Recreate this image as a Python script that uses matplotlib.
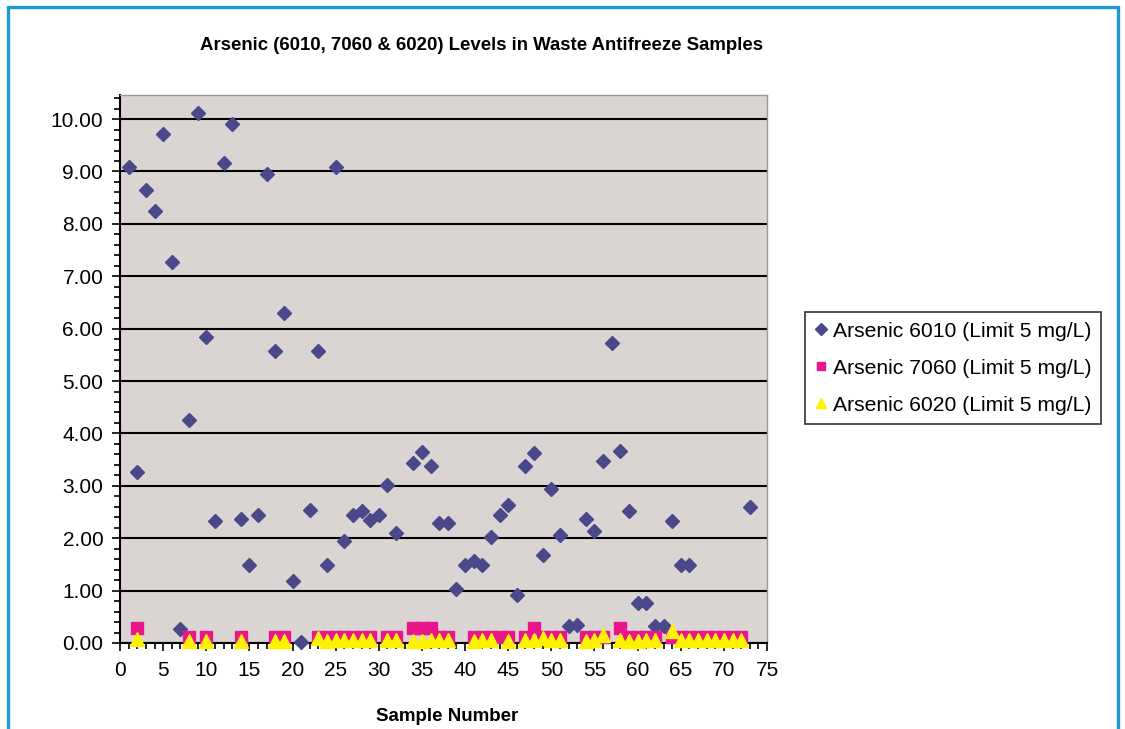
import numpy as np
import matplotlib
matplotlib.use("Agg")
import matplotlib.pyplot as plt
from matplotlib.patches import Rectangle
from matplotlib.ticker import MultipleLocator, FormatStrFormatter

plt.rcParams['font.family'] = ['Liberation Sans', 'DejaVu Sans']

# Arsenic 6010 results (sample number, mg/L)
as6010_x = [1, 2, 3, 4, 5, 6, 7, 8, 9, 10, 11, 12, 13, 14, 15, 16, 17, 18, 19, 20,
            21, 22, 23, 24, 25, 26, 27, 28, 29, 30, 31, 32, 34, 35, 36, 37, 38, 39, 40,
            41, 42, 43, 44, 45, 46, 47, 48, 49, 50, 51, 52, 53, 54, 55, 56, 57, 58, 59,
            60, 61, 62, 63, 64, 65, 66, 73]
as6010_y = [9.08, 3.27, 8.65, 8.24, 9.72, 7.28, 0.27, 4.26, 10.11, 5.84, 2.32, 9.16, 9.91,
            2.37, 1.49, 2.45, 8.96, 5.58, 6.30, 1.19, 0.01, 2.54, 5.58, 1.49, 9.08, 1.95,
            2.44, 2.51, 2.35, 2.45, 3.01, 2.10, 3.43, 3.64, 3.38, 2.29, 2.29, 1.03, 1.49,
            1.56, 1.48, 2.02, 2.44, 2.64, 0.91, 3.38, 3.63, 1.67, 2.94, 2.07, 0.32, 0.35,
            2.37, 2.13, 3.47, 5.72, 3.66, 2.51, 0.76, 0.76, 0.32, 0.32, 2.32, 1.49, 1.49, 2.60]

# Arsenic 7060
as7060_x = [2, 8, 10, 14, 18, 19, 23, 24, 25, 26, 27, 28, 29, 31, 32, 34, 35, 36, 37, 38,
            41, 42, 43, 44, 45, 47, 48, 49, 50, 51, 54, 55, 56, 58, 59, 60, 61, 62, 64,
            65, 66, 67, 68, 69, 70, 71, 72]
as7060_y = [0.29, 0.12, 0.12, 0.12, 0.12, 0.12, 0.12, 0.12, 0.12, 0.12, 0.12, 0.12, 0.12,
            0.12, 0.12, 0.29, 0.29, 0.29, 0.12, 0.12, 0.12, 0.12, 0.12, 0.12, 0.12, 0.12,
            0.29, 0.12, 0.12, 0.12, 0.12, 0.12, 0.12, 0.29, 0.12, 0.12, 0.12, 0.12, 0.12,
            0.12, 0.12, 0.12, 0.12, 0.12, 0.12, 0.12, 0.12]

# Arsenic 6020
as6020_x = [2, 8, 10, 14, 18, 19, 23, 24, 25, 26, 27, 28, 29, 31, 32, 34, 35, 36, 37, 38,
            41, 42, 43, 45, 47, 48, 49, 50, 51, 54, 55, 56, 58, 59, 60, 61, 62, 64, 65,
            66, 67, 68, 69, 70, 71, 72]
as6020_y = [0.07, 0.04, 0.04, 0.04, 0.04, 0.04, 0.09, 0.04, 0.05, 0.05, 0.05, 0.05, 0.05,
            0.05, 0.05, 0.04, 0.04, 0.05, 0.05, 0.05, 0.04, 0.05, 0.05, 0.04, 0.05, 0.05,
            0.09, 0.05, 0.05, 0.04, 0.05, 0.15, 0.05, 0.04, 0.04, 0.05, 0.05, 0.22, 0.05,
            0.05, 0.05, 0.05, 0.05, 0.05, 0.05, 0.05]

fig = plt.figure(figsize=(11.25, 7.29), dpi=100)
fig.patch.set_facecolor('white')

# blue frame around the chart
fig.patches.append(Rectangle((0.0071, -0.05), 0.9867, 1.0404, transform=fig.transFigure,
                             fill=False, edgecolor='#1d9ad6', linewidth=2.4))

ax = fig.add_axes([0.1067, 0.118, 0.5751, 0.7517])
ax.set_facecolor('#dad5d2')

d1, = ax.plot(as6010_x, as6010_y, 'D', color='#4a4888', ms=7.5, mec='#4a4888',
              clip_on=False, zorder=3, label='Arsenic 6010 (Limit 5 mg/L)')
d2, = ax.plot(as7060_x, as7060_y, 's', color='#e8168a', ms=8.5, mec='#e8168a',
              clip_on=False, zorder=4, label='Arsenic 7060 (Limit 5 mg/L)')
d3, = ax.plot(as6020_x, as6020_y, '^', color='#fff200', ms=9.5, mec='#fff200',
              clip_on=False, zorder=5, label='Arsenic 6020 (Limit 5 mg/L)')

ax.set_xlim(0, 75)
ax.set_ylim(0, 10.46)
ax.xaxis.set_major_locator(MultipleLocator(5))
ax.xaxis.set_minor_locator(MultipleLocator(1))
ax.yaxis.set_major_locator(MultipleLocator(1))
ax.yaxis.set_minor_locator(MultipleLocator(0.2))
ax.yaxis.set_major_formatter(FormatStrFormatter('%.2f'))

ax.grid(axis='y', which='major', color='black', linewidth=1.5, zorder=1)
ax.set_axisbelow(True)

ax.tick_params(axis='both', which='major', labelsize=15, direction='out', width=1.2,
               color='black')
ax.tick_params(axis='y', which='major', length=6, pad=6)
ax.tick_params(axis='y', which='minor', length=4, width=1.2)
ax.tick_params(axis='x', which='major', length=6, pad=7)
ax.tick_params(axis='x', which='minor', length=4, width=1.2)

for side in ['left', 'bottom']:
    ax.spines[side].set_color('black')
    ax.spines[side].set_linewidth(1.5)
for side in ['top', 'right']:
    ax.spines[side].set_color('#9a9a9a')
    ax.spines[side].set_linewidth(1.0)

fig.text(0.4276, 0.938, 'Arsenic (6010, 7060 & 6020) Levels in Waste Antifreeze Samples',
         ha='center', va='center', fontsize=13.4, fontweight='bold')
fig.text(0.397, 0.017, 'Sample Number', ha='center', va='center', fontsize=13.5,
         fontweight='bold')

leg = fig.legend(handles=[d1, d2, d3], loc='center left', bbox_to_anchor=(0.7155, 0.495),
                 fontsize=15.2, frameon=True, fancybox=False, markerscale=0.75,
                 handlelength=0.6, handletextpad=0.3, borderpad=0.45, labelspacing=0.85,
                 borderaxespad=0)
leg.get_frame().set_edgecolor('black')
leg.get_frame().set_linewidth(1.2)

fig.savefig('out.png', dpi=100)
